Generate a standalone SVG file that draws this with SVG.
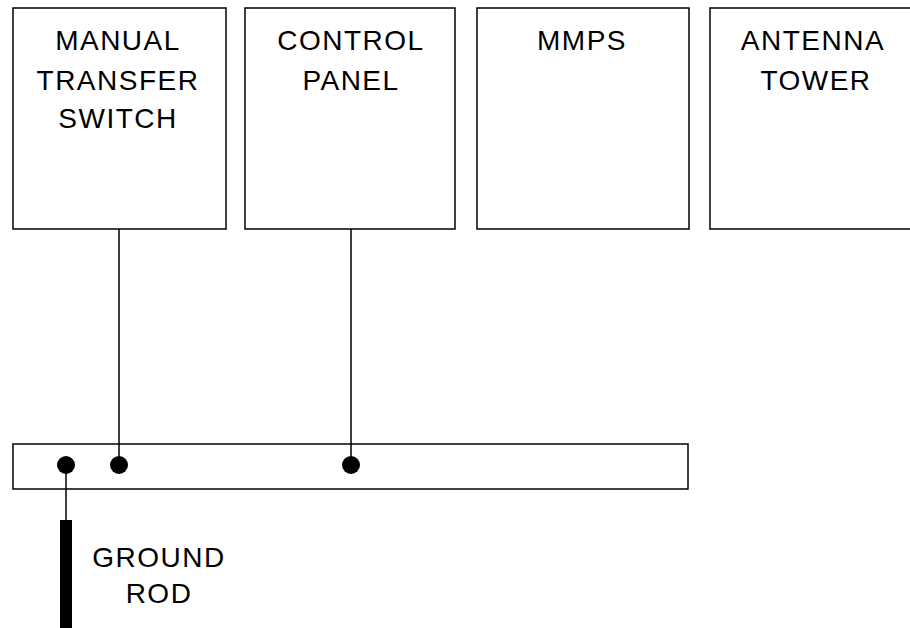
<svg xmlns="http://www.w3.org/2000/svg" width="910" height="628" viewBox="0 0 910 628">
<style>
.box{fill:#fff;stroke:#000;stroke-width:1.5}
.wire{fill:none;stroke:#000;stroke-width:1.5}
.dot{fill:#000}
text{font-family:"Liberation Sans",Arial,sans-serif;font-size:28px;fill:#000;text-anchor:middle;letter-spacing:1.5px}
</style>
<rect width="910" height="628" fill="#fff"/>
<g id="manual-transfer-switch">
<rect class="box" x="13" y="8" width="213" height="221"/>
<text x="118" y="50">MANUAL</text>
<text x="118" y="90">TRANSFER</text>
<text x="118" y="128">SWITCH</text>
</g>
<g id="control-panel">
<rect class="box" x="245" y="8" width="210" height="221"/>
<text x="351" y="50">CONTROL</text>
<text x="351" y="90">PANEL</text>
</g>
<g id="mmps">
<rect class="box" x="477" y="8" width="212" height="221"/>
<text x="582" y="50">MMPS</text>
</g>
<g id="antenna-tower">
<rect class="box" x="710" y="8" width="220" height="221"/>
<text x="813" y="50">ANTENNA</text>
<text x="816" y="90">TOWER</text>
</g>
<g id="ground-bus">
<rect class="box" x="13" y="444" width="675" height="45"/>
</g>
<g id="ground-rod">
<rect x="60" y="520" width="12" height="110" fill="#000"/>
<text x="159" y="567">GROUND</text>
<text x="159" y="603">ROD</text>
</g>
<g id="connectors">
<path class="wire" d="M119 229V465M351 229V465M66 465V520"/>
<circle class="dot" cx="66" cy="465" r="9"/>
<circle class="dot" cx="119" cy="465" r="9"/>
<circle class="dot" cx="351" cy="465" r="9"/>
</g>
</svg>
